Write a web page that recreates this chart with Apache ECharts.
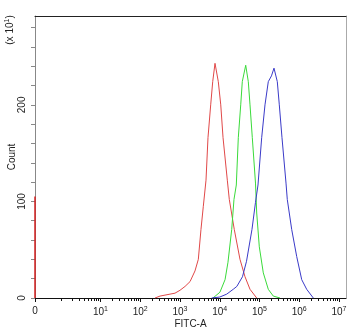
<!DOCTYPE html>
<html>
<head>
<meta charset="utf-8">
<script src="https://cdn.jsdelivr.net/npm/echarts@6/dist/echarts.min.js"></script>
<style>
  html, body { margin: 0; padding: 0; background: #fff; }
  #chart { width: 350px; height: 331px; }
</style>
</head>
<body>
<div id="chart"></div>
<script>
// FITC-A intensity (x) and count in units of 10 (y)
const X_MIN = 0.225;   // where the "0" channel sits on the log axis
const X_MAX = 1.5e7;
const Y_MAX = 292;

// events piled up in the 0 channel (red sample)
const redZeroCount = 105;

const redX = [235, 314, 560, 748, 1000, 1340, 1790, 2380, 2890, 3370, 3860, 4510, 5060, 5920, 6650, 7600, 9200, 10600, 12100, 15500, 17400, 23200, 32300, 43200, 57700, 85100];
const redY = [0, 2, 4, 5, 8, 12, 17, 28, 40, 71, 95, 122, 166, 200, 224, 243, 224, 200, 166, 122, 102, 71, 40, 22, 9, 0];

const greenX = [6760, 10100, 13600, 16100, 20000, 22800, 26100, 29300, 33700, 36900, 45000, 52300, 57700, 65900, 79300, 85100, 98900, 124700, 166400, 222300, 328000];
const greenY = [0, 6, 19, 37, 71, 102, 117, 166, 200, 224, 241, 224, 200, 166, 119, 88, 53, 26, 9, 2, 0];

const blueX = [6270, 10000, 14960, 21800, 26900, 37300, 47100, 64700, 79300, 91600, 113500, 137400, 166400, 200000, 231700, 280400, 315000, 368000, 464500, 500000, 645700, 862700, 1153000, 1539000, 2259000];
const blueY = [0, 1, 4, 9, 12, 22, 38, 71, 99, 117, 166, 200, 224, 230, 238, 224, 200, 166, 119, 102, 71, 43, 19, 9, 0];

// axis ticks
const xLabelValues = [X_MIN, 10, 100, 1e3, 1e4, 1e5, 1e6, 1e7];
const xMajorTicks = [X_MIN, 10, 100, 1e3, 1e4, 1e5, 1e6, 1e7];
const yTicks = [0, 20, 40, 60, 80, 100, 120, 140, 160, 180, 200, 220, 240, 260, 280];
const yLabelValues = [0, 100, 200];

// minor log ticks 1..9 in each decade
const xMinorTicks = [];
for (let d = 0; d < 7; d++) {
  for (let k = 1; k < 10; k++) {
    if (d > 0 && k === 1) continue;
    xMinorTicks.push(k * Math.pow(10, d));
  }
}

const FONT = 'Liberation Sans, Arial, sans-serif';

function pairs(xs, ys) {
  return xs.map((x, i) => [x, ys[i]]);
}

const myChart = echarts.init(document.getElementById('chart'));

const option = {
  animation: false,
  backgroundColor: '#fff',
  grid: { left: 35, right: 4, top: 16, bottom: 33, outerBoundsMode: 'none', containLabel: false },
  xAxis: [
    {
      type: 'log',
      logBase: 10,
      min: X_MIN,
      max: X_MAX,
      position: 'bottom',
      name: 'FITC-A',
      nameLocation: 'middle',
      nameGap: 21,
      nameMoveOverlap: false,
      nameTextStyle: { fontFamily: FONT, fontSize: 10, color: '#222' },
      axisLine: { onZero: false, lineStyle: { color: '#111', width: 1 } },
      axisTick: { customValues: xMajorTicks, length: 4, lineStyle: { color: '#111' } },
      axisLabel: {
        customValues: xLabelValues,
        margin: 8,
        fontFamily: FONT,
        fontSize: 10,
        color: '#222',
        formatter: function (v) {
          if (v < 1) return '0';
          return '{b|10}{s|' + Math.round(Math.log10(v)) + '}';
        },
        rich: {
          b: { fontFamily: FONT, fontSize: 10, color: '#222', lineHeight: 12 },
          s: { fontFamily: FONT, fontSize: 7, color: '#222', verticalAlign: 'top', lineHeight: 8 }
        }
      },
      splitLine: { show: false }
    },
    {
      // minor ticks
      type: 'log',
      logBase: 10,
      min: X_MIN,
      max: X_MAX,
      position: 'bottom',
      axisLine: { show: false, onZero: false },
      axisTick: { customValues: xMinorTicks, length: 3, lineStyle: { color: '#111' } },
      axisLabel: { show: false },
      splitLine: { show: false }
    },
    {
      // top frame line
      type: 'log',
      logBase: 10,
      min: X_MIN,
      max: X_MAX,
      position: 'top',
      axisLine: { onZero: false, lineStyle: { color: '#222' } },
      axisTick: { show: false },
      axisLabel: { show: false },
      splitLine: { show: false }
    }
  ],
  yAxis: [
    {
      type: 'value',
      min: 0,
      max: Y_MAX,
      position: 'left',
      name: 'Count',
      nameLocation: 'middle',
      nameGap: 18,
      nameRotate: 90,
      nameMoveOverlap: false,
      nameTextStyle: { fontFamily: FONT, fontSize: 10, color: '#222' },
      axisLine: { show: true, onZero: false, lineStyle: { color: '#888' } },
      axisTick: { show: true, customValues: yTicks, length: 4, lineStyle: { color: '#888' } },
      axisLabel: {
        customValues: yLabelValues,
        rotate: 90,
        margin: 8,
        fontFamily: FONT,
        fontSize: 10,
        color: '#222'
      },
      splitLine: { show: false }
    },
    {
      // right frame line
      type: 'value',
      min: 0,
      max: Y_MAX,
      position: 'right',
      axisLine: { show: true, onZero: false, lineStyle: { color: '#aaa' } },
      axisTick: { show: false },
      axisLabel: { show: false },
      splitLine: { show: false }
    }
  ],
  graphic: [
    {
      type: 'text',
      x: 10,
      y: 30,
      rotation: Math.PI / 2,
      style: {
        text: '{a|(x 10}{s|1}{a|)}',
        align: 'center',
        verticalAlign: 'middle',
        rich: {
          a: { fontFamily: FONT, fontSize: 10, fill: '#222', lineHeight: 12 },
          s: { fontFamily: FONT, fontSize: 7, fill: '#222', verticalAlign: 'top', lineHeight: 8 }
        }
      }
    }
  ],
  series: [
    {
      type: 'line',
      name: 'zero',
      xAxisIndex: 0,
      yAxisIndex: 0,
      clip: false,
      showSymbol: false,
      data: [[X_MIN, 0], [X_MIN, redZeroCount]],
      lineStyle: { color: '#d42020', width: 1.5 },
      itemStyle: { color: '#d42020' }
    },
    {
      type: 'line',
      name: 'red',
      xAxisIndex: 0,
      yAxisIndex: 0,
      showSymbol: false,
      data: pairs(redX, redY),
      lineStyle: { color: '#e04848', width: 1 },
      itemStyle: { color: '#e04848' }
    },
    {
      type: 'line',
      name: 'green',
      xAxisIndex: 0,
      yAxisIndex: 0,
      showSymbol: false,
      data: pairs(greenX, greenY),
      lineStyle: { color: '#3ada3a', width: 1 },
      itemStyle: { color: '#3ada3a' }
    },
    {
      type: 'line',
      name: 'blue',
      xAxisIndex: 0,
      yAxisIndex: 0,
      showSymbol: false,
      data: pairs(blueX, blueY),
      lineStyle: { color: '#3a3ac8', width: 1 },
      itemStyle: { color: '#3a3ac8' }
    }
  ]
};

myChart.setOption(option);
</script>
</body>
</html>
